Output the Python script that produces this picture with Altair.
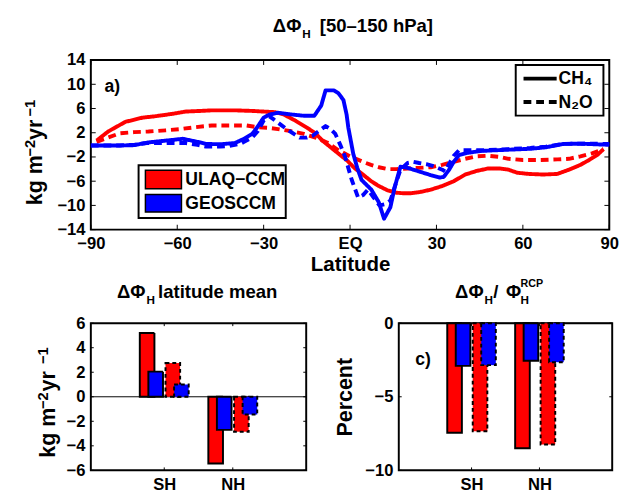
import altair as alt
import pandas as pd

FONT = "Liberation Sans"

# ---------------- data ----------------
models = ["ULAQ-CCM", "GEOSCCM"]
model_labels = ["ULAQ\u2212CCM", "GEOSCCM"]
model_colors = ["#ff0000", "#0000ff"]
gases = ["CH4", "N2O"]
gas_labels = ["CH\u2084", "N\u2082O"]

lat_ticks = [-90, -60, -30, 0, 30, 60, 90]
flux_ticks = [-14, -10, -6, -2, 2, 6, 10, 14]

ulaq_ch4_lat = [-88, -84, -78, -72, -68, -62, -57, -52, -48, -40, -34, -30, -26, -23, -19, -15, -12, -9.6, -7, -4, -1,
                1.7, 4.5, 7.3, 10, 13, 16, 18.6, 21, 24.2, 28, 32, 36, 40, 44, 48, 52, 55, 58, 62, 67, 72, 76, 80, 83, 86, 88]
ulaq_ch4_val = [0.7, 2.2, 3.8, 4.5, 4.7, 5.1, 5.5, 5.6, 5.7, 5.7, 5.6, 5.5, 5.4, 5.0, 4.0, 2.85, 1.9, 0.7, -0.3, -1.45, -2.6,
                -3.9, -4.9, -6.0, -6.8, -7.5, -7.9, -8.0, -8.0, -7.8, -7.4, -6.8, -6.0, -4.9, -4.3, -3.9, -3.9, -4.1, -4.6, -4.8, -4.9, -4.8, -4.1, -3.3, -2.5, -1.6, -0.7]

ulaq_n2o_lat = [-88, -84, -80, -75, -70, -64, -59, -54, -48, -42, -36, -32, -28, -25, -21, -16, -12, -8, -4, 0, 2, 5, 7.3,
                10, 13, 16, 20, 24, 28, 32, 36, 40, 44, 48, 52, 55, 60, 66, 72, 76, 80, 84, 87, 88]
ulaq_n2o_val = [0.5, 1.2, 1.9, 2.1, 2.2, 2.4, 2.6, 2.9, 3.2, 3.2, 3.2, 2.9, 2.8, 2.6, 2.3, 1.8, 1.2, 0.4, -0.9, -1.9, -2.3, -2.9, -3.3,
                -3.7, -4.0, -4.0, -3.9, -3.8, -3.7, -3.3, -2.8, -2.3, -1.9, -1.8, -2.0, -2.3, -2.5, -2.5, -2.4, -2.3, -1.9, -1.4, -0.9, -0.7]

geos_ch4_lat = [-90, -80, -75, -70, -66, -62, -58, -55, -52, -50, -45, -40, -36.8, -34, -32.3, -30, -28, -25, -20, -16, -12.4,
                -10, -8.5, -5.6, -4, -2.3, -1.2, -0.6, 1.1, 2.5, 4, 7.4, 10, 11.8, 14, 15.5, 17.5, 20, 24, 28, 31, 32.5, 34.4,
                36, 37.8, 41, 45.7, 55, 62.6, 68, 74, 80, 90]
geos_ch4_val = [-0.1, -0.1, -0.05, 0.4, 0.6, 0.8, 1.0, 0.7, 0.4, 0.15, 0.1, 0.3, 1.0, 1.8, 2.85, 4.5, 5.0, 5.3, 5.0, 4.8, 4.8,
                6.5, 9.0, 9.0, 8.5, 7.4, 5.0, 2.85, -1.45, -3.8, -5.8, -7.4, -9.5, -12.2, -10.3, -7.0, -3.6, -3.8, -4.4, -5.0, -5.4, -5.3, -4.1,
                -2.8, -1.7, -1.3, -1.0, -0.8, -0.65, -0.4, 0.15, 0.2, 0.0]

geos_n2o_lat = [-90, -80, -75, -70.6, -64, -57, -53, -50, -45, -42, -38, -36.8, -34, -32, -30, -28, -26.5, -24, -22, -19.5,
                -17.5, -15, -13, -10.5, -8.5, -6.8, -5.1, -3.4, -1.7, 0.6, 2.8, 4.5, 6.2, 8.2, 10.2, 12, 14, 15.8, 17.5, 20, 22,
                24, 26.5, 29, 32, 33, 34.4, 36, 37.8, 42, 45.7, 55, 62.6, 68, 74, 80, 90]
geos_n2o_val = [-0.1, -0.1, 0.0, 0.3, 0.3, 0.3, 0.0, -0.3, -0.3, -0.2, 0.2, 0.5, 1.2, 2.3, 4.0, 4.7, 4.2, 3.3, 2.6, 1.8,
                1.2, 1.2, 1.5, 2.4, 3.1, 2.6, 1.8, 0.0, -2.0, -5.8, -8.7, -8.3, -7.4, -8.7, -10.0, -9.8, -9.2, -6.5, -4.1, -3.0, -2.8,
                -3.0, -3.2, -3.5, -4.1, -4.4, -3.1, -1.8, -0.9, -0.9, -0.9, -0.7, -0.5, -0.3, 0.15, 0.2, 0.15]

regions = ["SH", "NH"]
mean_ulaq_ch4 = [5.2, -5.45]
mean_geos_ch4 = [2.05, -2.7]
mean_ulaq_n2o = [2.75, -2.85]
mean_geos_n2o = [1.0, -1.45]
mean_ticks = [-6, -4, -2, 0, 2, 4, 6]

pct_ulaq_ch4 = [-7.45, -8.5]
pct_geos_ch4 = [-2.9, -2.55]
pct_ulaq_n2o = [-7.35, -8.25]
pct_geos_n2o = [-2.85, -2.65]
pct_ticks = [-10, -5, 0]

UNIT_MAIN = ["kg m", "yr"]
UNIT_SUP = ["\u22122", "\u22121"]


# ---------------- helpers ----------------
def one():
    return pd.DataFrame({"a": [0]})


def txt(s, x, y, size=18, align="left", baseline="middle", angle=0):
    return alt.Chart(pd.DataFrame({"s": [s]})).mark_text(
        align=align, baseline=baseline, fontSize=size, font=FONT, fontWeight="bold", color="black", angle=angle
    ).encode(text="s:N", x=alt.value(x), y=alt.value(y))


def rect(x1, x2, y1, y2, fill, sw=2):
    return alt.Chart(one()).mark_rect(fill=fill, stroke="black", strokeWidth=sw).encode(
        x=alt.value(x1), x2=alt.value(x2), y=alt.value(y1), y2=alt.value(y2))


def hline(x1, x2, y, dash, width=4, color="black"):
    return alt.Chart(one()).mark_rule(color=color, strokeWidth=width, strokeDash=dash).encode(
        x=alt.value(x1), x2=alt.value(x2), y=alt.value(y))


def anchor(x, y):
    # invisible (white) 1px mark that fixes the panel's outer bounds for the layout
    return alt.Chart(one()).mark_rule(color="white", strokeWidth=1).encode(
        x=alt.value(x), x2=alt.value(x + 1), y=alt.value(y))


def unit_title(xb, xs_, starts, main=22, sup=15):
    return [
        txt(UNIT_MAIN[0], xb, starts[0], size=main, baseline="alphabetic", angle=270),
        txt(UNIT_SUP[0], xs_, starts[1], size=sup, baseline="alphabetic", angle=270),
        txt(UNIT_MAIN[1], xb, starts[2], size=main, baseline="alphabetic", angle=270),
        txt(UNIT_SUP[1], xs_, starts[3], size=sup, baseline="alphabetic", angle=270),
    ]


# ---------------- top panel ----------------
W1, H1 = 532, 174
xs = alt.Scale(domain=[-90, 90], nice=False, zero=False)
ys = alt.Scale(domain=[-14, 14], nice=False, zero=False)
x_axis = alt.Axis(values=lat_ticks, labelExpr="datum.value == 0 ? 'EQ' : format(datum.value, 'd')",
                  title="Latitude", titleFontSize=21, labelFontSize=17, labelPadding=6, titlePadding=3,
                  ticks=False, domain=False, grid=False, labelFlush=False, labelOverlap=False)
y_axis = alt.Axis(values=flux_ticks, title=None, labelFontSize=17, labelPadding=6,
                  ticks=False, domain=False, grid=False, labelFlush=False, labelOverlap=False)


def enc_top(ch):
    return ch.encode(x=alt.X("lat:Q", scale=xs, axis=x_axis), y=alt.Y("val:Q", scale=ys, axis=y_axis))


series = [
    (ulaq_ch4_lat, ulaq_ch4_val, model_colors[0], [1, 0]),
    (ulaq_n2o_lat, ulaq_n2o_val, model_colors[0], [8, 5]),
    (geos_ch4_lat, geos_ch4_val, model_colors[1], [1, 0]),
    (geos_n2o_lat, geos_n2o_val, model_colors[1], [8, 5]),
]

top_layers = [anchor(-75.5, -45.5), anchor(0, 221.5)]
top_layers.append(enc_top(alt.Chart(pd.DataFrame({"val": [0]})).mark_rule(color="black", strokeWidth=1)))
for lats, vals, col, dash in series:
    top_layers.append(enc_top(alt.Chart(pd.DataFrame({"lat": lats, "val": vals})).mark_line(
        color=col, strokeWidth=4, strokeDash=dash, strokeCap="butt", strokeJoin="round")))
tk = 5
xt = pd.DataFrame({"lat": lat_ticks})
yt = pd.DataFrame({"val": flux_ticks})
top_layers.append(alt.Chart(xt).mark_rule(color="black", strokeWidth=1).encode(
    x=alt.X("lat:Q", scale=xs, axis=x_axis), y=alt.value(H1), y2=alt.value(H1 - tk)))
top_layers.append(alt.Chart(xt).mark_rule(color="black", strokeWidth=1).encode(
    x=alt.X("lat:Q", scale=xs, axis=x_axis), y=alt.value(0), y2=alt.value(tk)))
top_layers.append(alt.Chart(yt).mark_rule(color="black", strokeWidth=1).encode(
    y=alt.Y("val:Q", scale=ys, axis=y_axis), x=alt.value(0), x2=alt.value(tk)))
top_layers.append(alt.Chart(yt).mark_rule(color="black", strokeWidth=1).encode(
    y=alt.Y("val:Q", scale=ys, axis=y_axis), x=alt.value(W1 - tk), x2=alt.value(W1)))

# model legend
top_layers.append(rect(49, 200, 108, 162, "white", 2))
top_layers.append(rect(56, 93, 113, 132, model_colors[0], 1.5))
top_layers.append(rect(56, 93, 138, 156, model_colors[1], 1.5))
top_layers.append(txt(model_labels[0], 97, 123))
top_layers.append(txt(model_labels[1], 97, 148))
# gas legend
top_layers.append(rect(436, 526, 5, 57, "white", 2))
top_layers.append(hline(444, 478, 19, [1, 0]))
top_layers.append(hline(444, 478, 43, [8, 5]))
top_layers.append(txt(gas_labels[0], 480, 20))
top_layers.append(txt(gas_labels[1], 480, 44))
# labels / titles
top_layers.append(txt("a)", 14, 28))
top_layers.append(txt("\u0394\u03a6", 216, -35, size=19, align="right"))
top_layers.append(txt("H", 217, -27, size=12))
top_layers.append(txt("[50\u2013150 hPa]", 235, -35, size=19))
top_layers += unit_title(-50.5, -57.5, [149, 99, 82, 58])

top = alt.layer(*top_layers).properties(width=W1, height=H1)


# ---------------- bar panels ----------------
def bar_df(vals_list):
    rows = []
    combos = [(models[0], gases[0]), (models[1], gases[0]), (models[0], gases[1]), (models[1], gases[1])]
    for ri, r in enumerate(regions):
        for (m, g), vals in zip(combos, vals_list):
            rows.append({"region": r, "model": m, "gas": g, "value": vals[ri]})
    return pd.DataFrame(rows)


regions_js = "[" + ",".join("'%s'" % r for r in regions) + "]"
xpos_expr = ("indexof(%s, datum.region) + 1 + (datum.gas == '%s' ? -0.1875 : 0.1875)"
             " + (datum.model == '%s' ? -0.0625 : 0.0625)") % (regions_js, gases[0], models[0])
label_expr = " : ".join("datum.value == %d ? '%s'" % (i + 1, r) for i, r in enumerate(regions[:-1])) + " : '%s'" % regions[-1]


def bar_panel(df, domain, ticks, w, h, ytitle, ytitlepad, extra):
    bx = alt.Scale(domain=[0, 3], nice=False, zero=False)
    by = alt.Scale(domain=domain, nice=False, zero=False)
    bxa = alt.Axis(values=[1, 2], labelExpr=label_expr, title=None, labelFontSize=17, labelPadding=7,
                   ticks=False, domain=False, grid=False, labelFlush=False)
    if ytitle:
        bya = alt.Axis(values=ticks, title=ytitle, titleFontSize=22, labelFontSize=17, labelPadding=6,
                       titlePadding=ytitlepad, ticks=False, domain=False, grid=False, labelFlush=False,
                       labelOverlap=False)
    else:
        bya = alt.Axis(values=ticks, title=None, labelFontSize=17, labelPadding=6,
                       ticks=False, domain=False, grid=False, labelFlush=False, labelOverlap=False)
    X = alt.X("xpos:Q", scale=bx, axis=bxa)
    Y = alt.Y("value:Q", scale=by, axis=bya)
    layers = []
    layers.append(alt.Chart(pd.DataFrame({"value": [0]})).mark_rule(color="black", strokeWidth=1).encode(y=Y))
    layers.append(alt.Chart(df).transform_calculate(xpos=xpos_expr).mark_bar(
        size=15, stroke="black", strokeWidth=2, orient="vertical").encode(
        x=X, y=alt.Y("value:Q", scale=by, axis=bya, stack=None),
        fill=alt.Fill("model:N", scale=alt.Scale(domain=models, range=model_colors), legend=None),
        strokeDash=alt.StrokeDash("gas:N", scale=alt.Scale(domain=gases, range=[[1, 0], [4, 3]]), legend=None),
    ))
    t = 3
    bt = pd.DataFrame({"xpos": [1, 2]})
    vt = pd.DataFrame({"value": ticks})
    layers.append(alt.Chart(bt).mark_rule(color="black", strokeWidth=1).encode(x=X, y=alt.value(h), y2=alt.value(h - t)))
    layers.append(alt.Chart(bt).mark_rule(color="black", strokeWidth=1).encode(x=X, y=alt.value(0), y2=alt.value(t)))
    layers.append(alt.Chart(vt).mark_rule(color="black", strokeWidth=1).encode(y=Y, x=alt.value(0), x2=alt.value(t)))
    layers.append(alt.Chart(vt).mark_rule(color="black", strokeWidth=1).encode(y=Y, x=alt.value(w - t), x2=alt.value(w)))
    layers += extra
    return alt.layer(*layers).properties(width=w, height=h)


W2, H2 = 221, 151
W3 = 219

bl = bar_panel(bar_df([mean_ulaq_ch4, mean_geos_ch4, mean_ulaq_n2o, mean_geos_n2o]), [-6, 6], mean_ticks, W2, H2,
               None, 0, [
                   anchor(-83.5, -45.5),
                   txt("\u0394\u03a6", 56, -32, size=19, align="right"),
                   txt("H", 57, -24, size=12),
                   txt("latitude mean", 69, -32, size=19),
               ] + unit_title(-37, -44, [138, 88, 70, 42]))

br = bar_panel(bar_df([pct_ulaq_ch4, pct_geos_ch4, pct_ulaq_n2o, pct_geos_n2o]), [-10, 0], pct_ticks, W3, H2,
               "Percent", 9, [
                   anchor(-75.5, -45.5),
                   txt("\u0394\u03a6", 87, -32, size=19, align="right"),
                   txt("H", 88, -24, size=12),
                   txt("/", 97, -32, size=19),
                   txt("\u03a6", 110, -32, size=19),
                   txt("RCP", 125, -40, size=11),
                   txt("H", 125, -24, size=12),
                   txt("c)", 17, 38),
               ])

bottom = alt.hconcat(bl, br, spacing=16)

chart = alt.vconcat(top, bottom, spacing=0).properties(
    padding=0
).configure_view(stroke="black", strokeWidth=2).configure_axis(
    labelFont=FONT, titleFont=FONT, labelFontWeight="bold", titleFontWeight="bold",
    labelColor="black", titleColor="black"
).configure_text(font=FONT)

chart.save("out.html", embed_options={"renderer": "svg", "actions": False})
